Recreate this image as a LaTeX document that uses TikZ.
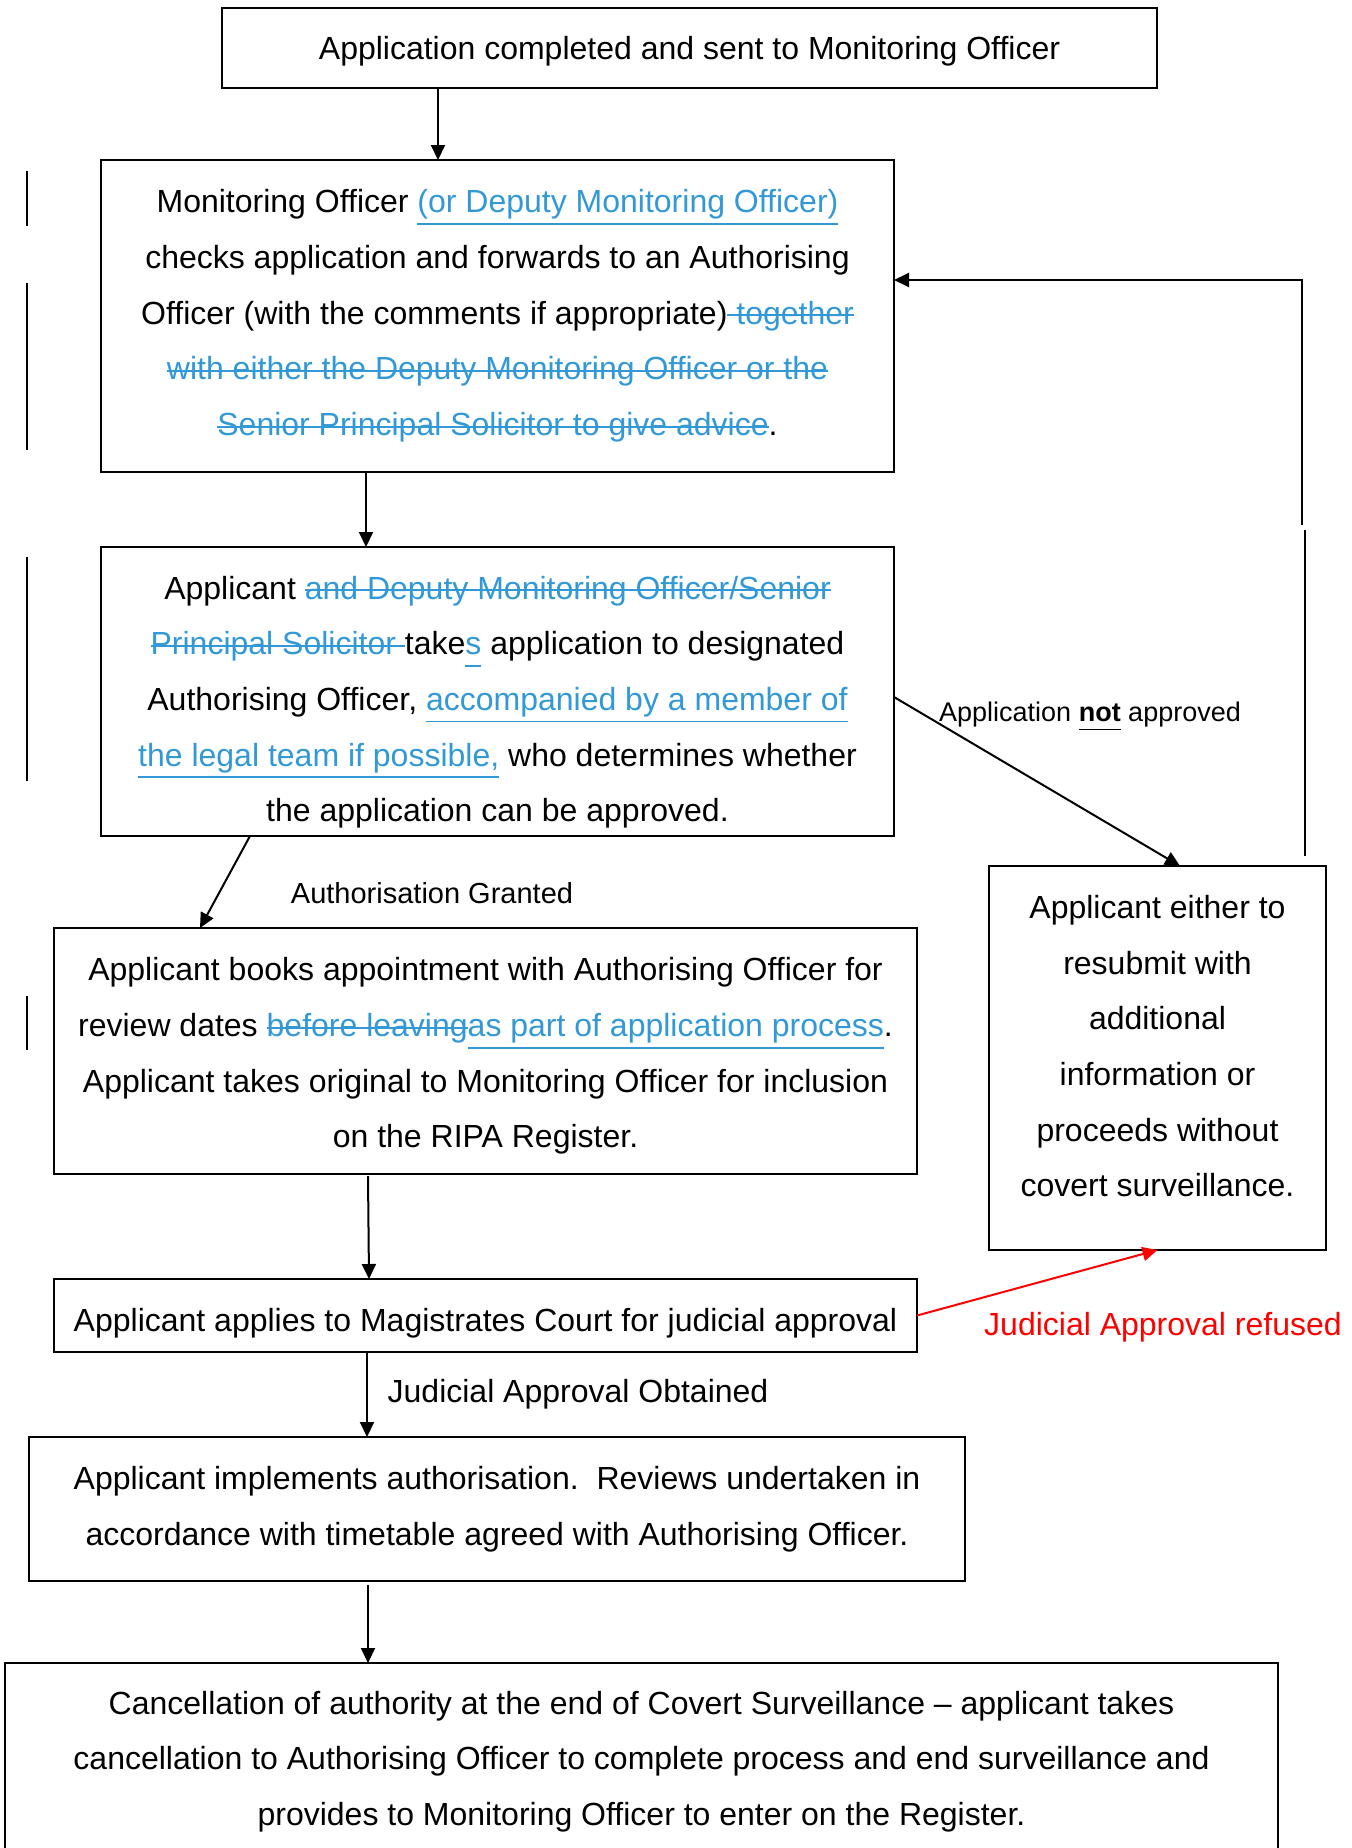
\documentclass[tikz,border=0pt]{standalone}
\usepackage{fontspec}
\setmainfont{Liberation Sans}
\usetikzlibrary{arrows.meta,calc}
\definecolor{trk}{RGB}{51,153,214}
\definecolor{refred}{RGB}{255,0,0}
\newcommand{\trkins}[1]{{\color{trk}\setbox0\hbox{#1}\rlap{\rule[-12pt]{\wd0}{1.8pt}}\box0}}
\newcommand{\trkdel}[1]{{\color{trk}\setbox0\hbox{#1}\rlap{\rule[8pt]{\wd0}{1.8pt}}\box0}}
\newcommand{\ulnot}[1]{{\setbox0\hbox{#1}\rlap{\rule[-9pt]{\wd0}{1.6pt}}\box0}}
% struts to nudge the text block inside a box
\newcommand{\topstrut}[1]{\rule{0pt}{\dimexpr 23.5pt+#1\relax}}
\newcommand{\botstrut}[1]{\rule[-#1]{0pt}{#1}}
\begin{document}
\begin{tikzpicture}[x=1pt,y=-1pt,
  box/.style={draw,line width=2pt,inner sep=0pt,outer sep=0pt,align=center,
    font=\fontsize{32}{55.7}\selectfont},
  arr/.style={line width=2pt,-{Triangle[length=15pt,width=14pt]}},
  lbl/.style={inner sep=0pt,outer sep=0pt},
  chg/.style={line width=1.3pt}]
\useasboundingbox (0,0) rectangle (1352,1848);

\node[box,minimum width=935pt,minimum height=80pt] (b1) at (689.5,48)
  {\topstrut{7pt}Application completed and sent to Monitoring Officer};

\node[box,minimum width=793pt,minimum height=312pt] (b2) at (497.5,316)
  {Monitoring Officer \trkins{(or Deputy Monitoring Officer)}\\
   checks application and forwards to an Authorising\\
   Officer (with the comments if appropriate)\trkdel{ together}\\
   \trkdel{with either the Deputy Monitoring Officer or the}\\
   \trkdel{Senior Principal Solicitor to give advice}.};

\node[box,minimum width=793pt,minimum height=289pt] (b3) at (497.5,691.5)
  {\topstrut{21pt}Applicant \trkdel{and Deputy Monitoring Officer/Senior}\\
   \trkdel{Principal Solicitor }take\trkins{s} application to designated\\
   Authorising Officer, \trkins{accompanied by a member of}\\
   \trkins{the legal team if possible,} who determines whether\\
   the application can be approved.};

\node[box,minimum width=863pt,minimum height=246pt] (b4) at (485.5,1051)
  {\topstrut{10pt}Applicant books appointment with Authorising Officer for\\
   review dates \trkdel{before leaving}\trkins{as part of application process}.\\
   Applicant takes original to Monitoring Officer for inclusion\\
   on the RIPA Register.};

\node[box,minimum width=337pt,minimum height=384pt] (b5) at (1157.5,1058)
  {Applicant either to\\ resubmit with\\ additional\\ information or\\
   proceeds without\\ covert surveillance.\botstrut{24pt}};

\node[box,minimum width=863pt,minimum height=73pt] (b6) at (485.5,1315.5)
  {\topstrut{16pt}Applicant applies to Magistrates Court for judicial approval};

\node[box,minimum width=936pt,minimum height=144pt] (b7) at (497,1509)
  {Applicant implements authorisation.\ \ Reviews undertaken in\\
   accordance with timetable agreed with Authorising Officer.};

\node[box,minimum width=1273pt,minimum height=197pt] (b8) at (641.5,1761.5)
  {Cancellation of authority at the end of Covert Surveillance -- applicant takes\\
   cancellation to Authorising Officer to complete process and end surveillance and\\
   provides to Monitoring Officer to enter on the Register.};

% labels
\node[lbl,font=\fontsize{29}{34}\selectfont] (lg) at (432,893) {Authorisation Granted};
\node[lbl,font=\fontsize{27}{32}\selectfont] (lna) at (1090,716)
  {Application \ulnot{\textbf{not}} approved};
\node[lbl,font=\fontsize{32}{38}\selectfont] (lo) at (578,1394) {Judicial Approval Obtained};
\node[lbl,font=\fontsize{32}{38}\selectfont,text=refred] (lr) at (1163,1327) {Judicial Approval refused};

% connectors
\draw[arr] ([xshift=216pt]b1.south west) -- ([xshift=337pt]b2.north west);
\draw[arr] ([xshift=265pt]b2.south west) -- ([xshift=265pt]b3.north west);
\draw[arr] ([xshift=149pt]b3.south west) -- ([xshift=146pt]b4.north west);
\draw[arr] ([yshift=-5.5pt]b3.east) -- ([xshift=191pt]b5.north west);
\draw[arr] ([xshift=316pt,yshift=10pt]b5.north west) -- ++(0,-326) ++(-3,-5) |- ([yshift=36pt]b2.east);
\draw[arr] ([xshift=314pt,yshift=-2pt]b4.south west) -- ([xshift=315pt]b6.north west);
\draw[arr,draw=refred,fill=refred] (b6.east) -- (b5.south);
\draw[arr] ([xshift=313pt]b6.south west) -- ([xshift=338pt]b7.north west);
\draw[arr] ([xshift=339pt,yshift=-4pt]b7.south west) -- ([xshift=363pt]b8.north west);

% change bars
\draw[chg] (27,171) -- (27,226);
\draw[chg] (27,283) -- (27,450);
\draw[chg] (27,557) -- (27,781);
\draw[chg] (27,996) -- (27,1050);
\end{tikzpicture}
\end{document}
